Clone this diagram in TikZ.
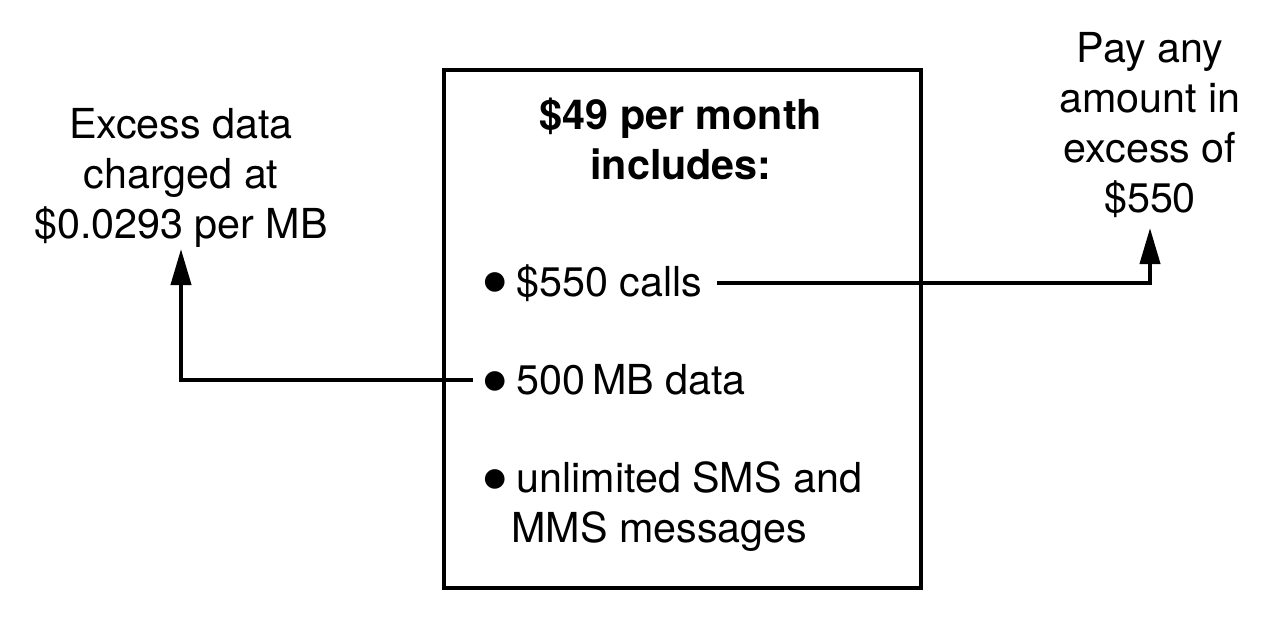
\documentclass[tikz,border=0pt]{standalone}
\usepackage{fontspec}
\setmainfont{TeX Gyre Heros}
\usetikzlibrary{arrows.meta}
\newcommand\bigdot{\makebox[0.58cm][l]{\hspace*{-0.12cm}\raisebox{-0.33em}[0pt][0pt]{\scalebox{1.9}{\textbullet}}}}
\begin{document}
\begin{tikzpicture}[>={Triangle[length=0.72cm,width=0.4cm]}, every node/.style={font=\fontsize{23.5}{28.45}\selectfont, align=center, inner sep=0pt}, item/.style={anchor=west, align=left, inner xsep=0.28cm}]
                \useasboundingbox (0,0) rectangle (25.5,-12.64);
                % Box
                \draw[line width=2.7pt] (8.88,-1.40) rectangle (18.42,-11.76);

                % Nodes
                \node at (13.62,-2.78) (title) {\textbf{\$49 per month}\\\textbf{includes:}};
                \node[item] at (9.46,-5.66) (calls) {\bigdot\$550 calls};
                \node[item] at (9.46,-7.60) (data) {\bigdot 500\,MB data};
                \node[item] at (9.46,-10.14) (sms) {\bigdot unlimited SMS and\\\hspace*{0.48cm}MMS messages};
                \node at (3.62,-3.56) (excess) {Excess data\\charged at\\\$0.0293 per MB};
                \node at (23.0,-2.50) (pay) {Pay any\\amount in\\excess of\\\$550};
                \coordinate (exctip) at (3.62,-4.98);
                \coordinate (paytip) at (23.0,-4.56);

                % Edges
                \draw[->, line width=2.3pt] (calls.east) -| (paytip);
                \draw[->, line width=2.3pt] (data.west) -| (exctip);
            \end{tikzpicture}
\end{document}
